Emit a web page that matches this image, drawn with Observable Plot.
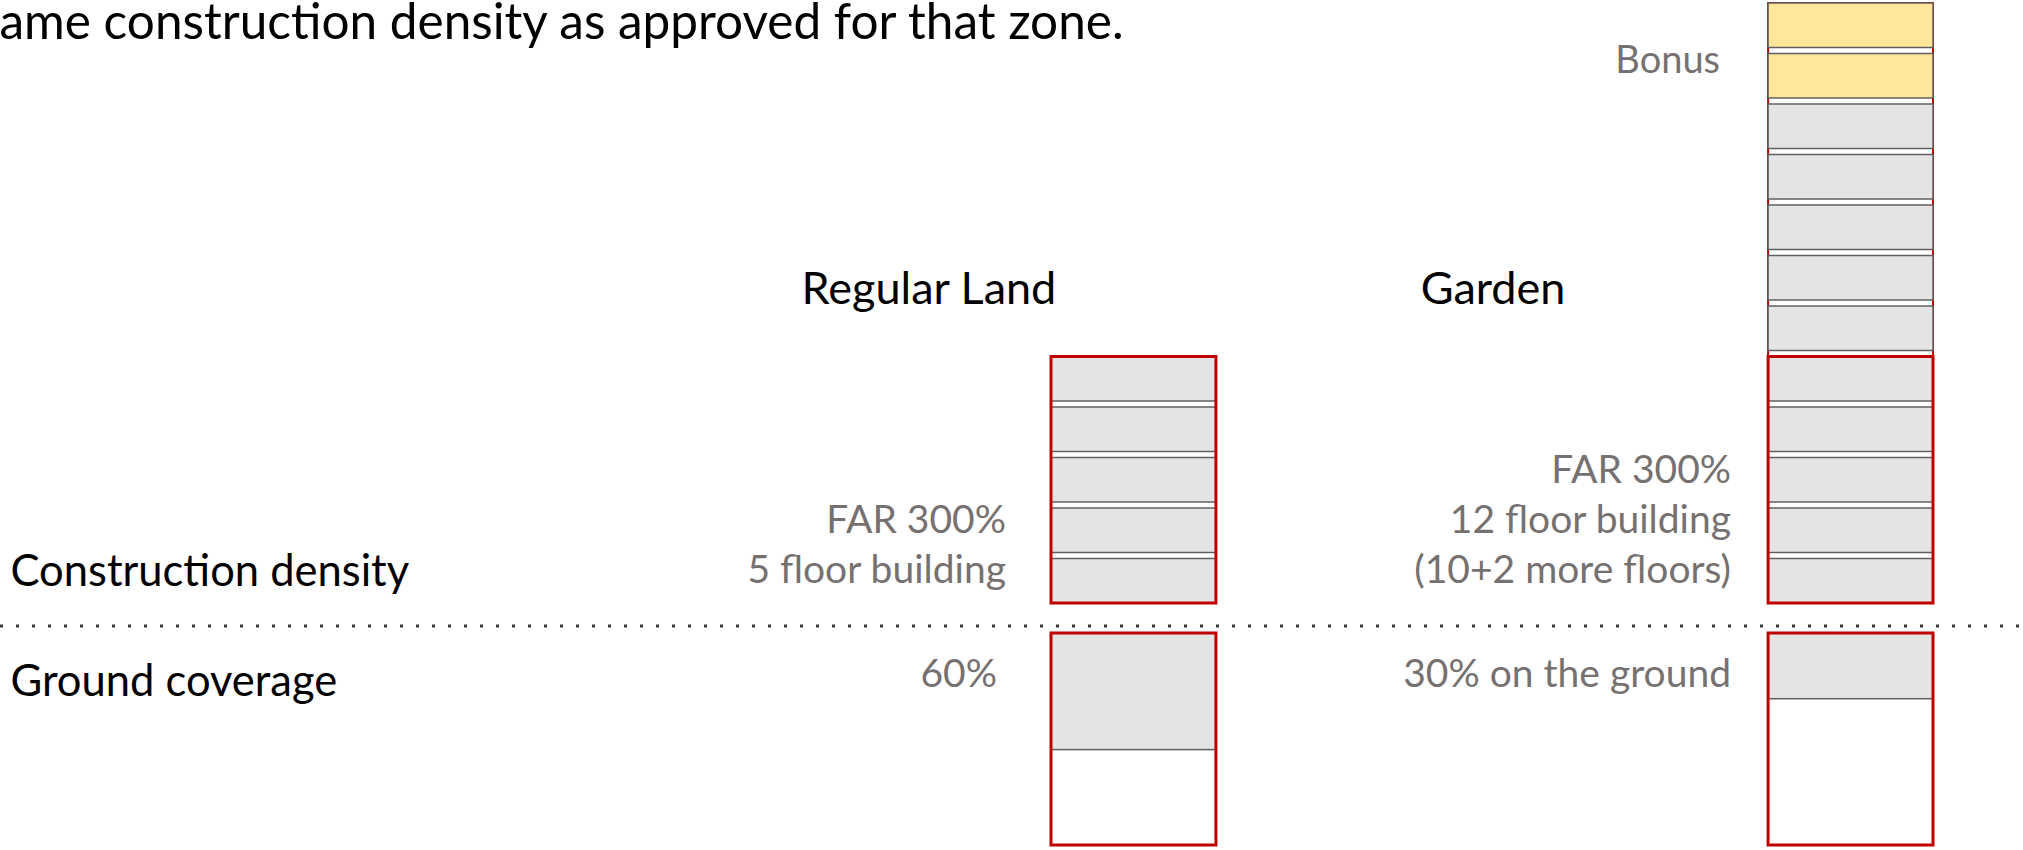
<!DOCTYPE html>
<html><head><meta charset="utf-8">
<script src="https://cdn.jsdelivr.net/npm/d3@7"></script>
<script src="https://cdn.jsdelivr.net/npm/@observablehq/plot@0.6"></script>
<style>
html,body{margin:0;padding:0;background:#fff;overflow:hidden;}
#wrap{position:relative;width:2023px;height:850px;font-family:Lato,sans-serif;}
#topPlot,#bottomPlot{position:absolute;left:0;}
#topPlot{top:0}
#bottomPlot{top:612px}
</style></head><body>
<div id="wrap"><div id="topPlot"></div><div id="bottomPlot"></div></div>
<script>
// ---- data ----
const titleText = "ame construction density as approved for that zone.";
const columns = ["Regular Land", "Garden"];
const baseFloors = [5, 10];
const bonusFloors = [0, 2];
const farEnvelopeFloors = [5, 5];
const coverageDrawn = [0.55, 0.31];
const densityLabels = ["FAR 300%\n5 floor building", "FAR 300%\n12 floor building\n(10+2 more floors)"];
const coverageLabels = ["60%", "30% on the ground"];
const rowLabels = ["Construction density", "Ground coverage"];
const bonusLabel = "Bonus";

// ---- styles ----
const RED = "#C00000", GREY = "#E4E4E4", YELLOW = "#FFE699", EDGE = "#606060", TXT = "#767171";
const headerDx = {"Regular Land": -205, "Garden": -358};
const densityDx = {"Regular Land": -128, "Garden": -120};
const coverageDx = {"Regular Land": -137, "Garden": -120};

const floors = columns.flatMap((c, j) => d3.range(baseFloors[j] + bonusFloors[j]).map(i => ({
  column: c, floor: i, kind: i < baseFloors[j] ? "base" : "bonus"
})));
const buildings = columns.map((c, j) => ({
  column: c, base: baseFloors[j], bonus: bonusFloors[j], total: baseFloors[j] + bonusFloors[j],
  envelope: farEnvelopeFloors[j], label: densityLabels[j], coverage: coverageDrawn[j], coverageLabel: coverageLabels[j]
}));

const xScale = {type: "band", domain: columns, range: [1051, 1933], paddingInner: 0.77, paddingOuter: 0, round: false, axis: null};

const topChart = Plot.plot({
  width: 2023, height: 612,
  marginTop: 3, marginBottom: 3, marginLeft: 0, marginRight: 0,
  style: {fontFamily: "Lato, sans-serif", background: "transparent", overflow: "visible"},
  x: xScale,
  y: {domain: [0, 12], axis: null},
  marks: [
    Plot.barY(buildings.filter(d => d.total > d.envelope), {x: "column", y1: () => 0, y2: "total", insetBottom: 6, fill: "none", stroke: RED, strokeWidth: 2}),
    Plot.barY(floors, {filter: d => d.kind === "base", x: "column", y1: "floor", y2: d => d.floor + 1, insetBottom: 6, fill: GREY, stroke: EDGE, strokeWidth: 1.5}),
    Plot.barY(floors, {filter: d => d.kind === "bonus", x: "column", y1: "floor", y2: d => d.floor + 1, insetBottom: 6, fill: YELLOW, stroke: EDGE, strokeWidth: 1.5}),
    Plot.barY(buildings, {x: "column", y1: () => 0, y2: "envelope", insetBottom: 6, fill: "none", stroke: RED, strokeWidth: 3}),
    Plot.text([titleText], {text: d => d, frameAnchor: "top-left", textAnchor: "start", lineAnchor: "bottom", dx: -1, dy: 35, fontSize: 49.5, fill: "#000"}),
    ...columns.map(c => Plot.text([c], {x: d => d, text: d => d, frameAnchor: "top", lineAnchor: "bottom", dx: headerDx[c], dy: 300, fontSize: 45, fill: "#000"})),
    Plot.text(buildings.filter(d => d.bonus > 0), {x: "column", y: d => d.base + d.bonus / 2, text: () => bonusLabel, textAnchor: "end", lineAnchor: "bottom", dx: -131, dy: 19, fontSize: 38, fill: TXT}),
    ...columns.map(c => Plot.text(buildings.filter(d => d.column === c), {x: "column", y: () => 0, text: "label", textAnchor: "end", lineAnchor: "bottom", lineHeight: 1.27, dx: densityDx[c], dy: -27, fontSize: 39, fill: TXT})),
    Plot.text([rowLabels[0]], {y: () => 0, text: d => d, frameAnchor: "left", textAnchor: "start", lineAnchor: "bottom", dx: 10, dy: -24, fontSize: 43.5, fill: "#000"})
  ]
});
document.getElementById("topPlot").appendChild(topChart);

const bottomChart = Plot.plot({
  width: 2023, height: 238,
  marginTop: 21, marginBottom: 5, marginLeft: 0, marginRight: 0,
  style: {fontFamily: "Lato, sans-serif", background: "transparent", overflow: "visible"},
  x: xScale,
  y: {domain: [0, 1], reverse: true, axis: null},
  marks: [
    Plot.ruleY([0], {dy: -7.5, stroke: "#3a3a3a", strokeWidth: 3, strokeDasharray: "3 13"}),
    Plot.barY(buildings, {x: "column", y1: () => 0, y2: "coverage", fill: GREY, stroke: EDGE, strokeWidth: 1.5}),
    Plot.barY(buildings, {x: "column", y1: () => 0, y2: () => 1, fill: "none", stroke: RED, strokeWidth: 3}),
    Plot.text([rowLabels[1]], {text: d => d, frameAnchor: "top-left", textAnchor: "start", lineAnchor: "bottom", dx: 10, dy: 62, fontSize: 43.5, fill: "#000"}),
    ...columns.map(c => Plot.text(buildings.filter(d => d.column === c), {x: "column", y: () => 0, text: "coverageLabel", textAnchor: "end", lineAnchor: "bottom", dx: coverageDx[c], dy: 53, fontSize: 39, fill: TXT}))
  ]
});
document.getElementById("bottomPlot").appendChild(bottomChart);
</script>
</body></html>
